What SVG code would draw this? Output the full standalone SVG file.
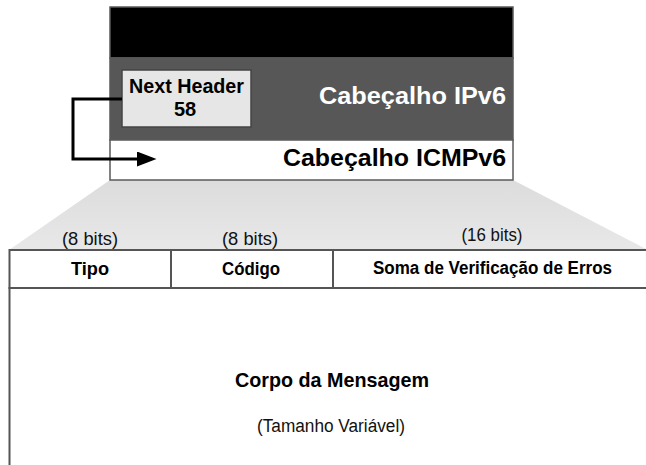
<svg xmlns="http://www.w3.org/2000/svg" width="646" height="465" viewBox="0 0 646 465">
  <style>
    .b { font-family: "Liberation Sans", Arial, sans-serif; font-weight: bold; }
    .r { font-family: "Liberation Sans", Arial, sans-serif; }
    .frame { stroke: #5a5a5a; stroke-width: 1.5; }
    .cell { fill: #ffffff; stroke: #555555; stroke-width: 2; }
    .link { fill: none; stroke: #000000; stroke-width: 3; }
  </style>
  <defs>
    <marker id="arrow" markerWidth="7" markerHeight="5" refX="0" refY="2.5" orient="auto" markerUnits="strokeWidth">
      <path d="M0,0 L6.5,2.5 L0,5 Z" fill="#000000"/>
    </marker>
    <linearGradient id="fan" x1="0" y1="0" x2="0" y2="1">
      <stop offset="0" stop-color="#dcdcdc"/>
      <stop offset="1" stop-color="#e8e8e8"/>
    </linearGradient>
  </defs>

  <rect width="646" height="465" fill="#ffffff"/>

  <!-- expansion wedge from the ICMPv6 header down to the field table -->
  <path d="M110,180 L513,180 L646,249 L9,250 Z" fill="url(#fan)"/>

  <!-- IPv6 packet stack -->
  <g id="ipv6-packet">
    <rect x="110" y="7" width="403" height="51" fill="#000000" class="frame"/>
    <rect x="110" y="58" width="403" height="82" fill="#575757" class="frame"/>
    <text x="506" y="104" class="b" font-size="23" fill="#ffffff" text-anchor="end" textLength="187" lengthAdjust="spacingAndGlyphs">Cabeçalho IPv6</text>
  </g>

  <g id="icmpv6-header">
    <rect x="110" y="140" width="403" height="40" fill="#ffffff" class="frame"/>
    <text x="506" y="166" class="b" font-size="23" fill="#000000" text-anchor="end" textLength="223" lengthAdjust="spacingAndGlyphs">Cabeçalho ICMPv6</text>
  </g>

  <g id="next-header">
    <rect x="122" y="70" width="129" height="57" fill="#e6e6e6" stroke="#444444" stroke-width="1.5"/>
    <text x="186.5" y="93" class="b" font-size="20" text-anchor="middle" textLength="115" lengthAdjust="spacingAndGlyphs">Next Header</text>
    <text x="185" y="116" class="b" font-size="20" text-anchor="middle">58</text>
  </g>

  <!-- connector: Next Header value points at the ICMPv6 header -->
  <g id="connectors">
    <polyline class="link" points="122,99 73,99 73,159 137,159" marker-end="url(#arrow)"/>
  </g>

  <!-- field widths -->
  <g id="bit-widths" class="r" font-size="17.5" fill="#111111" text-anchor="middle">
    <text x="90" y="245" textLength="56" lengthAdjust="spacingAndGlyphs">(8 bits)</text>
    <text x="250" y="245" textLength="56" lengthAdjust="spacingAndGlyphs">(8 bits)</text>
    <text x="492" y="241" textLength="61" lengthAdjust="spacingAndGlyphs">(16 bits)</text>
  </g>

  <!-- ICMPv6 message fields -->
  <g id="field-tipo">
    <rect x="9.5" y="250" width="161.5" height="38" class="cell"/>
    <text x="90" y="275" class="b" font-size="18" text-anchor="middle" textLength="38" lengthAdjust="spacingAndGlyphs">Tipo</text>
  </g>
  <g id="field-codigo">
    <rect x="171" y="250" width="162" height="38" class="cell"/>
    <text x="251" y="275" class="b" font-size="18" text-anchor="middle" textLength="58" lengthAdjust="spacingAndGlyphs">Código</text>
  </g>
  <g id="field-checksum">
    <rect x="333" y="250" width="320" height="38" class="cell"/>
    <text x="492.5" y="274" class="b" font-size="18" text-anchor="middle" textLength="239" lengthAdjust="spacingAndGlyphs">Soma de Verificação de Erros</text>
  </g>

  <g id="message-body">
    <rect x="9.5" y="288" width="650" height="190" class="cell"/>
    <text x="332" y="387" class="b" font-size="21" text-anchor="middle" textLength="194" lengthAdjust="spacingAndGlyphs">Corpo da Mensagem</text>
    <text x="331" y="432" class="r" font-size="18" text-anchor="middle" fill="#111111" textLength="148" lengthAdjust="spacingAndGlyphs">(Tamanho Variável)</text>
  </g>
</svg>
